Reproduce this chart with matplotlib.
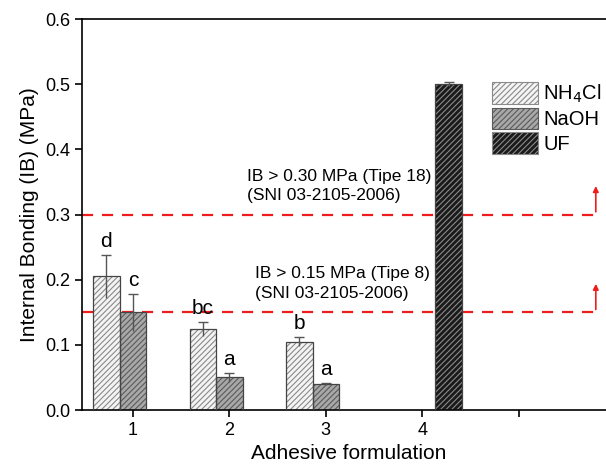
import numpy as np
import matplotlib.pyplot as plt

plt.rcParams['font.family'] = ['Liberation Sans', 'DejaVu Sans']
plt.rcParams['hatch.linewidth'] = 0.8

# data
groups = [1, 2, 3]
nh4cl = [0.205, 0.124, 0.105]
nh4cl_err = [0.033, 0.011, 0.007]
nh4cl_lbl = ['d', 'bc', 'b']
naoh = [0.150, 0.050, 0.040]
naoh_err = [0.028, 0.007, 0.002]
naoh_lbl = ['c', 'a', 'a']
uf_x = [4]
uf = [0.501]
uf_err = [0.003]
std_vals = [0.30, 0.15]
std_txt = ['IB > 0.30 MPa (Tipe 18)\n(SNI 03-2105-2006)',
           'IB > 0.15 MPa (Tipe 8)\n(SNI 03-2105-2006)']
std_txt_x = [2.18, 2.27]

w = 0.275
fig = plt.figure(figsize=(6.06, 4.67), dpi=100)
ax = fig.add_axes([0.135, 0.122, 0.88, 0.837])

def draw(x, y, err, face, hatchc, label):
    x = np.array(x, dtype=float)
    ax.bar(x, y, w, color=face, edgecolor=hatchc, hatch='//////', linewidth=0, label=label, zorder=2)
    ax.bar(x, y, w, fill=False, edgecolor='#444444', linewidth=0.9, zorder=3)
    ax.errorbar(x, y, yerr=err, fmt='none', ecolor='#555555', elinewidth=1, capsize=0, zorder=4)
    ax.plot(x, np.array(y) + np.array(err), '_', color='#555555', markersize=7, mew=1, zorder=4)

draw(np.array(groups) - w, nh4cl, nh4cl_err, '#f4f4f4', '#8a8a8a', 'NH$_4$Cl')
draw(np.array(groups), naoh, naoh_err, '#a8a8a8', '#5a5a5a', 'NaOH')
draw(np.array(uf_x) + w, uf, uf_err, '#1a1a1a', '#8a8a8a', 'UF')

for g, v, e, t in zip(groups, nh4cl, nh4cl_err, nh4cl_lbl):
    ax.text(g - w, v + e + 0.006, t, ha='center', va='bottom', fontsize=15)
for g, v, e, t in zip(groups, naoh, naoh_err, naoh_lbl):
    ax.text(g, v + e + 0.006, t, ha='center', va='bottom', fontsize=15)

# standard lines
arrow_x = 5.8
for s, t, tx in zip(std_vals, std_txt, std_txt_x):
    ax.plot([0.47, arrow_x], [s, s], color='#ee1c1c', linestyle=(0, (5, 4)), linewidth=1.6, zorder=1)
    ax.annotate('', xy=(arrow_x, s + 0.048), xytext=(arrow_x, s),
                arrowprops=dict(arrowstyle='-|>', color='#ee1c1c', lw=1.2, mutation_scale=8))
    ax.text(tx, s + 0.018, t, fontsize=12.5, va='bottom', ha='left', linespacing=1.35)

ax.set_xlim(0.47, 6.0)
ax.set_ylim(0, 0.6)
ax.set_xticks([1, 2, 3, 4, 5])
ax.set_xticklabels(['1', '2', '3', '4', ''])
ax.set_yticks(np.arange(0, 0.61, 0.1))
ax.yaxis.set_major_formatter(plt.FormatStrFormatter('%.1f'))
ax.tick_params(direction='out', length=5, width=1.2, labelsize=13)
for sp in ax.spines.values():
    sp.set_linewidth(1.2)
ax.set_xlabel('Adhesive formulation', fontsize=15, labelpad=4)
ax.set_ylabel('Internal Bonding (IB) (MPa)', fontsize=15)

leg = ax.legend(loc='upper left', bbox_to_anchor=(0.769, 0.839), frameon=False, fontsize=14.5,
                borderpad=0, borderaxespad=0,
                handlelength=2.3, handleheight=1.3, labelspacing=0.12, handletextpad=0.25)
for p in leg.get_patches():
    p.set_linewidth(0.8)

fig.savefig('out.png', dpi=100)
